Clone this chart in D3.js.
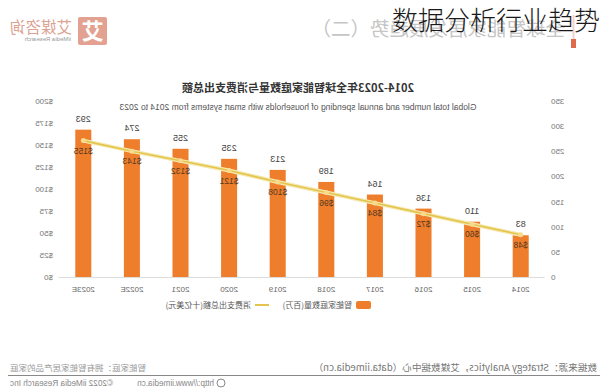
<!DOCTYPE html>
<html><head><meta charset="utf-8">
<script src="https://cdn.jsdelivr.net/npm/d3@7"></script>
<style>
html,body{margin:0;padding:0;background:#fff;}
svg{display:block;font-family:"Noto Sans CJK SC","Noto Sans",sans-serif;}
</style></head>
<body>
<svg id="c" width="600" height="390"></svg>
<script>
const years = ["2014","2015","2016","2017","2018","2019","2020","2021","2022E","2023E"];
const households = [83,110,136,164,189,213,235,255,274,293];
const spending = [48,60,72,84,96,108,121,132,143,155];
const leftTicks = [0,50,100,150,200,250,300,350];
const rightTicks = [0,25,50,75,100,125,150,175,200];
const title = "2014-2023年全球智能家庭数量与消费支出总额";
const subtitle = "Global total number and  annual spending of households with smart systems from 2014 to 2023";
const legendLabels = ["智能家庭数量(百万)","消费支出总额(十亿美元)"];

const svg = d3.select("#c");
svg.append("rect").attr("width",600).attr("height",390).attr("fill","#fff");

// whole picture is mirrored horizontally
const g = svg.append("g").attr("transform","translate(600,0) scale(-1,1)");

const x = d3.scaleBand().domain(years).range([55,541]).paddingInner(0.67).paddingOuter(0.335);
const yL = d3.scaleLinear().domain([0,350]).range([277,101]);
const yR = d3.scaleLinear().domain([0,200]).range([277,101]);

// header
g.append("rect").attr("x",493).attr("y",17).attr("width",29).attr("height",28).attr("rx",2).attr("fill","#E3A291");
g.append("text").attr("x",507.5).attr("y",39).attr("text-anchor","middle").attr("font-size",22).attr("font-weight","bold").attr("fill","#fff").text("艾");
g.append("text").attr("x",528).attr("y",33).attr("font-size",15.5).attr("fill","#DCA393").text("艾媒咨询");
g.append("text").attr("x",529).attr("y",41).attr("font-size",6).attr("fill","#999").attr("font-family","Liberation Sans").text("iiMedia Research");
g.append("text").attr("x",35).attr("y",36).attr("font-size",19.5).attr("fill","#c6c6c6").text("全球智能家居发展趋势（二）");
g.append("line").attr("x1",26.5).attr("x2",26.5).attr("y1",15).attr("y2",39).attr("stroke","#F3D0C8").attr("stroke-width",2);
g.append("rect").attr("x",24).attr("y",39).attr("width",5).attr("height",9).attr("fill","#DE6B4C");

// titles
g.append("text").attr("x",302).attr("y",92).attr("text-anchor","middle").attr("font-size",11).attr("font-weight","bold").attr("fill","#333").text(title);
g.append("text").attr("x",302).attr("y",110).attr("text-anchor","middle").attr("font-size",8.5).attr("fill","#555").attr("font-family","Liberation Sans").text(subtitle);

// axes
const axL = g.append("g").attr("transform","translate(49,0)")
  .call(d3.axisLeft(yL).tickValues(leftTicks).tickSize(0).tickPadding(0));
axL.select(".domain").remove();
axL.selectAll("text").attr("font-size",8).attr("fill","#777").attr("font-family","Liberation Sans");

const axR = g.append("g").attr("transform","translate(547,0)")
  .call(d3.axisRight(yR).tickValues(rightTicks).tickSize(0).tickPadding(0).tickFormat(d=>"$"+d));
axR.select(".domain").remove();
axR.selectAll("text").attr("font-size",8).attr("fill","#777").attr("font-family","Liberation Sans");

const axB = g.append("g").attr("transform","translate(0,277)")
  .call(d3.axisBottom(x).tickSize(0).tickPadding(9));
axB.select(".domain").attr("stroke","#ddd");
axB.selectAll("text").attr("font-size",8).attr("fill","#666").attr("font-family","Liberation Sans");

// bars
g.selectAll("rect.bar").data(households).enter().append("rect").attr("class","bar")
  .attr("x",(d,i)=>x(years[i])).attr("width",x.bandwidth())
  .attr("y",d=>yL(d)).attr("height",d=>yL(0)-yL(d)).attr("fill","#EE7E2C");
g.selectAll("text.bl").data(households).enter().append("text").attr("class","bl")
  .attr("x",(d,i)=>x(years[i])+x.bandwidth()/2).attr("y",d=>yL(d)-8)
  .attr("text-anchor","middle").attr("font-size",9).attr("fill","#444").attr("font-family","Liberation Sans").text(d=>d);

// line
const line = d3.line().x((d,i)=>x(years[i])+x.bandwidth()/2).y(d=>yR(d));
g.append("path").datum(spending).attr("d",line).attr("fill","none").attr("stroke","#F3E9B0").attr("stroke-width",4);
g.append("path").datum(spending).attr("d",line).attr("fill","none").attr("stroke","#E5C44C").attr("stroke-width",1.6);
g.selectAll("circle.pt").data(spending).enter().append("circle").attr("class","pt")
  .attr("cx",(d,i)=>x(years[i])+x.bandwidth()/2).attr("cy",d=>yR(d)).attr("r",2.5).attr("fill","#F8D98E");
g.selectAll("text.sl").data(spending).enter().append("text").attr("class","sl")
  .attr("x",(d,i)=>x(years[i])+x.bandwidth()/2).attr("y",d=>yR(d)+13)
  .attr("text-anchor","middle").attr("font-size",8.5).attr("fill","#5a3a20").attr("font-family","Liberation Sans").text(d=>"$"+d);

// legend
g.append("rect").attr("x",229).attr("y",301).attr("width",15).attr("height",8).attr("rx",2).attr("fill","#EE7E2C");
g.append("text").attr("x",248).attr("y",308).attr("font-size",8).attr("fill","#555").text(legendLabels[0]);
g.append("line").attr("x1",331).attr("x2",345).attr("y1",305).attr("y2",305).attr("stroke","#E5C44C").attr("stroke-width",2);
g.append("text").attr("x",349).attr("y",308).attr("font-size",8).attr("fill","#555").text(legendLabels[1]);

// footer
g.append("text").attr("x",3).attr("y",371).attr("font-size",9.6).attr("fill","#777").text("数据来源：Strategy Analytics，艾媒数据中心（data.iimedia.cn）");
g.append("text").attr("x",590).attr("y",371).attr("text-anchor","end").attr("font-size",8.5).attr("fill","#999").text("智能家庭：拥有智能家居产品的家庭");
g.append("line").attr("x1",0).attr("x2",592).attr("y1",375.5).attr("y2",375.5).attr("stroke","#888").attr("stroke-width",1);
g.append("circle").attr("cx",379).attr("cy",383).attr("r",4).attr("fill","none").attr("stroke","#888");
g.append("text").attr("x",386).attr("y",386).attr("font-size",8.2).attr("fill","#888").attr("font-family","Liberation Sans").text("http://www.iimedia.cn");
g.append("text").attr("x",590).attr("y",386).attr("text-anchor","end").attr("font-size",8.2).attr("fill","#888").attr("font-family","Liberation Sans").text("©2022  iiMedia Research Inc");

// overlay (not mirrored)
svg.append("text").attr("x",600).attr("y",30).attr("text-anchor","end").attr("font-size",26).attr("fill","#1a1a1a").attr("font-family","Noto Sans CJK SC").attr("font-weight",300).text("数据分析行业趋势");
</script>
</body></html>
